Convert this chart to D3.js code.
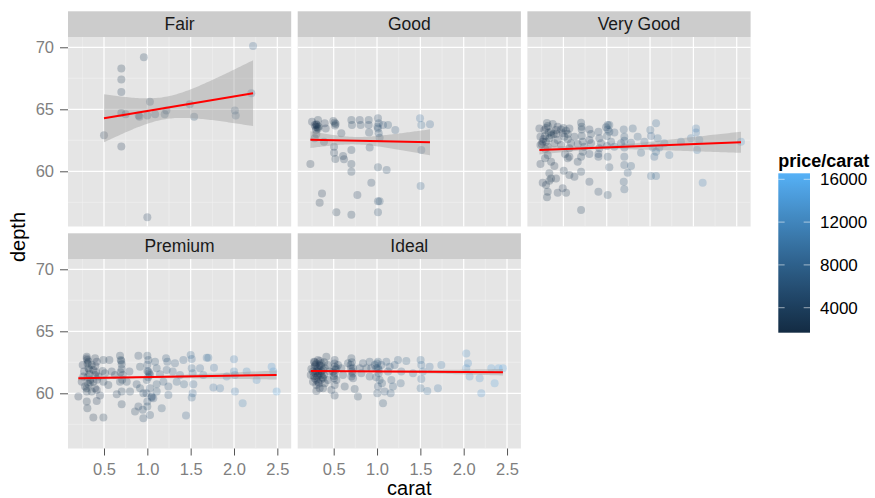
<!DOCTYPE html>
<html>
<head>
<meta charset="UTF-8">
<title>depth vs carat by cut</title>
<script src="https://d3js.org/d3.v7.min.js"></script>
<style>
  body { margin: 0; background: #fff; }
  svg { display: block; font-family: "Liberation Sans", Arial, Helvetica, sans-serif; }
</style>
</head>
<body>
<svg id="chart" width="875" height="498"></svg>
<script>
  // facets, in drawing order
  const cuts = ["Fair", "Good", "Very Good", "Premium", "Ideal"];

  // points: [carat, depth, price/carat]
  const fairPts = [
    [0.50,62.9,2600],[0.70,68.3,3000],[0.70,67.4,2900],[0.70,66.4,3100],[0.70,64.7,3000],[0.75,64.6,3200],
    [0.70,62.0,2800],[0.90,64.5,3600],[0.91,64.4,3500],[0.96,69.2,3900],[1.00,64.5,4000],[1.00,56.3,3800],
    [1.03,65.6,4100],[1.09,64.6,4300],[1.20,64.6,4500],[1.22,64.9,4600],[1.49,65.4,5200],[1.54,64.4,5400],
    [2.01,64.9,6500],[2.02,64.5,6300],[2.20,66.3,7200],[2.22,70.1,7600]
  ];
  const goodPts = [
    [0.250,64.00,2700],[0.319,64.14,2500],[0.304,63.73,2400],[0.327,63.60,2500],[0.296,63.33,2300],[0.300,63.01,2600],
    [0.396,63.87,2800],[0.408,63.46,2700],[0.496,64.06,3000],[0.523,63.81,3100],[0.588,63.06,3300],[0.704,64.14,3400],
    [0.711,63.73,3600],[0.800,64.14,3800],[0.811,63.73,3900],[0.904,64.14,4100],[0.904,63.73,4200],[0.908,63.12,4000],
    [1.011,64.27,4800],[1.019,63.87,5000],[1.011,63.46,5200],[1.019,63.06,4700],[1.030,62.71,4600],[1.069,63.73,5300],
    [1.127,63.73,5600],[1.211,63.33,6000],[1.496,64.27,9500],[1.511,63.73,8800],[1.611,63.79,8200],[0.281,62.66,2400],
    [0.388,62.39,2900],[0.504,61.99,3100],[0.504,61.50,3200],[0.519,60.99,3000],[0.608,61.23,3300],[0.619,60.97,3200],
    [0.704,61.72,3500],[0.704,60.59,3600],[0.704,59.97,3700],[0.915,61.93,4300],[0.231,60.59,2600],[1.011,60.32,4900],
    [1.111,60.10,5100],[1.511,61.72,7800],[0.934,59.08,4200],[1.503,58.81,8000],[0.365,58.22,2700],[0.338,57.47,2600],
    [0.773,58.09,3800],[1.011,57.58,5000],[1.030,57.58,5400],[0.531,56.69,3000],[0.704,56.50,3500],[1.011,56.69,4600],
    [0.281,63.73,2300],[0.311,63.55,2400],[0.511,63.92,2900],[0.300,63.80,2300],[0.320,63.45,2400],[0.290,63.60,2300],
    [0.515,63.70,2900],[1.005,63.60,5000]
  ];
  const veryGoodPts = [
    [0.223,63.46,2300],[0.281,63.33,2200],[0.319,63.65,2400],[0.377,63.81,2500],[0.415,63.33,2600],[0.473,63.38,2900],
    [0.531,63.28,3000],[0.569,63.46,3100],[0.704,63.92,3500],[0.711,63.38,3600],[0.800,63.38,3800],[0.904,63.20,4300],
    [1.011,63.73,5200],[1.011,63.38,5600],[1.030,63.20,5000],[1.196,63.38,6000],[1.300,63.46,6400],[1.503,63.33,8000],
    [1.569,63.87,8600],[2.030,63.46,10500],[2.030,63.12,11000],[1.030,63.73,5400],[0.992,63.55,4800],[0.358,63.20,2400],
    [0.434,63.60,2700],
    [0.235,62.79,2300],[0.288,62.85,2400],[0.338,62.66,2500],[0.388,63.01,2600],[0.434,62.52,2700],[0.511,62.79,2900],
    [0.550,62.58,3000],[0.627,62.79,3200],[0.711,62.85,3500],[0.800,62.52,3800],[0.819,63.01,3900],[0.915,62.66,4200],
    [1.003,62.85,4900],[1.088,63.12,5300],[1.203,62.79,6000],[1.203,62.47,6200],[1.511,62.85,7800],[1.588,62.66,8300],
    [1.972,62.66,10000],[2.068,62.52,10800],[2.549,62.39,12500],[0.261,62.39,2300],[0.300,62.39,2400],[0.492,63.06,2800],
    [0.550,63.01,3000],[1.357,62.79,6800],[1.434,62.39,7200],
    [0.235,62.12,2300],[0.319,61.99,2400],[0.396,62.26,2600],[0.473,62.12,2800],[0.569,61.85,3100],[0.665,62.20,3300],
    [0.742,61.99,3600],[0.915,61.85,4200],[1.003,62.04,5000],[1.203,61.93,6100],[1.396,61.50,7000],[1.530,61.93,8000],
    [1.607,61.93,8500],[2.042,61.72,10600],[0.588,62.26,3100],[0.723,62.39,3500],[0.819,62.26,3800],[0.934,62.26,4400],
    [1.050,62.39,5200],[1.165,62.26,5800],[1.280,62.31,6300],[1.665,62.26,8800],[1.857,62.39,9600],
    [0.235,60.59,2300],[0.288,61.05,2400],[0.319,61.31,2400],[0.358,60.78,2500],[0.396,60.43,2600],[0.519,61.40,2900],
    [0.550,61.05,3000],[0.569,61.18,3100],[0.665,60.78,3300],[0.704,61.18,3500],[0.723,61.58,3500],[0.800,61.40,3800],
    [0.904,61.40,4200],[0.904,61.18,4300],[1.011,61.18,5000],[1.030,60.32,5100],[1.088,61.99,5400],[1.203,61.18,6000],
    [1.203,60.51,6100],[1.242,59.89,6300],[1.280,60.43,6500],[1.549,61.18,8200],[1.722,61.31,9000],[1.569,61.58,8400],
    [0.338,59.84,2400],[0.338,59.24,2500],[0.358,59.43,2500],[0.415,59.43,2600],[0.261,59.08,2300],[0.300,58.89,2400],
    [0.319,58.36,2400],[0.311,57.90,2500],[0.434,58.28,2700],[0.492,58.63,2800],[0.531,58.28,2900],[0.504,60.05,2900],
    [0.569,59.70,3000],[0.627,59.57,3200],[0.704,59.97,3500],[0.800,59.16,3800],[0.904,58.36,4200],[1.011,58.09,4900],
    [1.196,59.16,6000],[1.203,58.55,6100],[1.511,59.62,8000],[1.569,59.62,8300],[2.107,59.08,11000],[0.704,56.88,3400],
    [0.300,63.50,2300],[0.330,63.10,2400],[0.270,62.60,2300],[0.360,62.90,2500],[0.420,63.00,2600],[0.250,62.20,2300],
    [0.310,63.90,2400],[0.500,63.50,2900],[0.710,63.60,3500],[0.290,61.80,2400]
  ];
  const premiumPts = [
    [0.301,62.95,2400],[0.308,62.69,2400],[0.397,62.82,2600],[0.416,62.55,2700],[0.493,62.69,2900],[0.562,62.69,3100],
    [0.685,63.03,3400],[0.693,62.69,3500],[0.704,62.34,3500],[0.897,63.03,4300],[1.000,63.03,4900],[1.012,62.69,5100],
    [1.089,62.55,5400],[1.216,62.82,6100],[1.231,62.55,6200],[1.319,62.42,6700],[1.416,62.69,7200],[1.500,63.09,8000],
    [1.512,62.77,8200],[1.704,62.87,9200],[1.769,62.07,9500],[2.000,62.74,11000],[1.685,62.87,9000],
    [0.254,62.28,2300],[0.270,61.75,2300],[0.320,62.02,2400],[0.331,61.53,2500],[0.377,61.88,2600],[0.397,61.48,2600],
    [0.485,61.80,2900],[0.512,61.61,3000],[0.589,61.75,3200],[0.627,61.48,3300],[0.704,61.96,3500],[0.716,61.48,3600],
    [0.793,61.75,3800],[0.916,62.15,4400],[1.000,61.80,5000],[1.012,61.75,5200],[1.023,61.61,5100],[1.108,62.02,5500],
    [1.146,61.53,5800],[1.223,61.88,6200],[1.293,61.75,6600],[1.377,61.48,7000],[1.512,62.02,8100],[1.523,61.61,8300],
    [1.608,62.02,8700],[1.646,61.48,8900],[2.000,61.75,11200],[2.011,61.48,11000],[2.261,61.08,12800],[2.434,62.15,13500],
    [2.454,61.75,14000],[1.915,61.35,10500],[2.146,61.75,12000],
    [0.243,60.94,2300],[0.281,60.54,2400],[0.320,60.73,2400],[0.377,60.94,2600],[0.397,60.41,2600],[0.493,60.94,2900],
    [0.550,60.68,3000],[0.685,60.94,3400],[0.762,60.94,3700],[0.877,60.73,4200],[0.916,60.41,4400],[0.993,61.08,4900],
    [1.031,60.41,5200],[1.108,60.73,5600],[1.185,60.94,6000],[1.243,60.54,6300],[1.339,60.94,6800],[1.423,60.73,7300],
    [1.531,60.73,8200],[1.762,60.46,9500],[1.839,60.41,10000],[2.011,60.14,11000],[2.492,60.14,14500],
    [0.204,59.74,2300],[0.301,60.14,2400],[0.416,60.27,2700],[0.454,59.82,2800],[0.647,59.92,3300],[0.704,60.14,3500],
    [0.800,60.14,3900],[0.954,60.00,4600],[1.050,59.66,5300],[1.108,60.14,5600],[1.243,59.87,6300],[1.523,60.00,8200],
    [1.512,59.66,8000],[0.301,59.34,2400],[0.308,58.80,2400],[0.416,59.39,2700],[0.704,59.12,3500],[0.858,58.53,4100],
    [0.897,58.93,4300],[0.947,58.67,4600],[1.000,58.93,4900],[1.000,59.34,5000],[1.031,58.26,5100],[0.954,57.99,4700],
    [1.166,58.80,5900],[1.446,58.21,7500],[2.100,59.20,11500],[0.377,58.05,2600],[0.493,58.05,2900],
    [0.320,62.55,2400],[0.358,62.28,2500],[0.262,61.35,2300],[0.339,61.08,2500],[0.435,61.35,2700],[0.358,60.14,2500],
    [1.031,61.48,5100],[1.050,59.74,5200],[1.069,59.60,5300],
    [0.300,62.80,2300],[0.310,62.40,2400],[0.330,61.90,2400],[0.310,61.30,2400],[0.340,60.90,2500],[0.300,60.40,2400],
    [0.400,62.20,2600],[0.410,61.70,2600],[0.420,61.10,2700],[0.700,62.60,3500],[0.690,61.70,3500],[0.710,61.10,3600],
    [1.000,62.30,5000],[1.010,61.30,5100],[0.990,60.00,4800]
  ];
  const idealPts = [
    [0.242,61.96,2600],[0.273,62.55,2700],[0.288,62.28,2700],[0.300,61.75,2800],[0.311,61.35,2700],[0.319,62.69,2800],
    [0.327,62.02,2800],[0.338,61.61,2900],[0.350,61.08,2800],[0.358,62.42,2900],[0.377,61.88,2900],[0.388,61.48,3000],
    [0.396,60.81,2900],[0.415,62.95,3000],[0.281,61.21,2700],[0.300,60.68,2700],[0.300,60.19,2600],[0.338,60.41,2800],
    [0.434,62.28,3000],[0.434,61.08,3100],[0.511,62.69,3300],[0.511,62.15,3300],[0.511,61.61,3400],[0.531,61.08,3300],
    [0.511,60.68,3200],[0.511,59.82,3200],[0.588,62.02,3500],[0.607,61.48,3500],[0.627,60.54,3400],[0.704,62.82,3900],
    [0.696,62.28,3800],[0.711,61.75,3900],[0.723,61.21,3800],[0.742,60.35,3900],[0.780,59.74,4000],[0.800,62.02,4200],
    [0.819,61.61,4200],[0.915,62.55,4700],[0.915,61.35,4600],[0.973,62.28,5000],[1.011,62.55,5600],[1.019,61.61,5500],
    [1.030,61.08,5400],[1.011,60.54,5300],[1.003,60.00,5200],[1.057,60.81,5600],[1.088,60.14,5700],[1.069,59.20,5500],
    [1.107,62.55,6000],[1.127,61.75,6100],[1.165,61.08,6300],[1.184,60.54,6400],[1.157,60.00,6200],[1.203,62.28,6600],
    [1.242,62.69,6800],[1.280,61.75,7000],[1.338,62.60,7400],[1.273,60.81,7000],[1.415,61.61,7900],[1.503,62.69,8800],
    [1.511,62.28,9000],[1.530,61.75,9100],[1.511,61.16,8900],[1.503,60.41,8800],[1.580,60.19,9300],[1.607,62.15,9500],
    [1.742,62.28,10300],[1.703,60.41,10000],[2.030,63.22,12500],[2.049,62.42,12800],[2.030,62.02,12600],[2.068,61.35,12900],
    [2.184,61.21,13500],[2.203,60.00,13600],[2.318,62.02,14200],[2.357,60.81,14500],[2.403,62.02,14800],[2.453,62.02,15200],
    [0.235,61.48,2600],[0.261,60.94,2600],[0.377,60.41,2900],[0.454,61.75,3100],[0.473,60.27,3100],[0.550,62.28,3400],
    [0.665,62.42,3700],[0.838,62.42,4300],[0.877,62.02,4500],[0.934,62.02,4800],[0.992,62.02,5200],[1.050,62.28,5700],
    [1.146,62.15,6200],
    [0.281,62.15,2700],[0.319,61.75,2800],[0.358,61.48,2900],[0.288,61.61,2700],[0.338,62.28,2800],[0.396,62.02,3000],
    [0.261,61.75,2600],[0.377,61.21,2900],[0.319,60.94,2700],[0.492,61.75,3300],[0.531,62.02,3400],[0.504,61.21,3300],
    [0.704,61.35,3800],[0.723,62.02,3900],[1.011,62.02,5500],
    [0.300,62.40,2700],[0.310,62.00,2700],[0.320,61.50,2800],[0.300,61.10,2700],[0.330,60.80,2800],[0.350,62.20,2800],
    [0.360,61.80,2900],[0.370,61.30,2900],[0.280,62.50,2600],[0.270,61.40,2600],[0.340,62.60,2800],[0.390,62.50,3000],
    [0.510,62.40,3300],[0.520,61.90,3300],[0.500,61.40,3300],[0.700,62.00,3800],[0.710,62.50,3900],[0.720,61.60,3900],
    [1.000,62.40,5500],[1.020,61.90,5400],[0.990,61.30,5200]
  ];
  const panelPts = [fairPts, goodPts, veryGoodPts, premiumPts, idealPts];

  // linear smooth: depth at the left and right ends,
  // and the confidence band: centre carat, narrowest half-width, spread
  const fitStart = [64.27, 62.55, 61.72, 61.21, 61.80];
  const fitEnd = [66.30, 62.34, 62.34, 61.48, 61.70];
  const seCenter = [1.2, 0.75, 0.9, 0.9, 0.8];
  const seMin = [0.9, 0.3, 0.12, 0.08, 0.04];
  const seSpread = [6.0, 1.35, 0.26, 0.05, 0.025];

  const caratTicks = [0.5, 1.0, 1.5, 2.0, 2.5];
  const caratMinor = [0.25, 0.75, 1.25, 1.75, 2.25];
  const depthTicks = [60, 65, 70];
  const depthMinor = [57.5, 62.5, 67.5];
  const priceTicks = [4000, 8000, 12000, 16000];

  const svg = d3.select("#chart");
  const panelW = 223.2, panelH = 189.5, gapX = 6.5, stripH = 25.7;
  const panelLeft = 68;
  const panelTops = [37, 259];

  const x = d3.scaleLinear().domain([0.0846, 2.66]).range([0, panelW]);
  const y = d3.scaleLinear().domain([55.55, 70.83]).range([panelH, 0]);
  const color = d3.scaleLinear()
    .domain([1664, 16561])
    .range(["#132B43", "#56B1F7"])
    .interpolate(d3.interpolateLab);

  cuts.forEach((cut, i) => {
    const col = i % 3, row = Math.floor(i / 3);
    const px = panelLeft + col * (panelW + gapX);
    const py = panelTops[row];
    const pts = panelPts[i];
    const g = svg.append("g").attr("transform", `translate(${px},${py})`);

    g.append("clipPath").attr("id", "clip" + i)
      .append("rect").attr("width", panelW).attr("height", panelH);

    g.append("rect").attr("width", panelW).attr("height", panelH).attr("fill", "#E5E5E5");

    // grid
    g.selectAll(".vminor").data(caratMinor).join("line")
      .attr("x1", d => x(d)).attr("x2", d => x(d)).attr("y1", 0).attr("y2", panelH)
      .attr("stroke", "#F2F2F2").attr("stroke-width", 0.6);
    g.selectAll(".hminor").data(depthMinor).join("line")
      .attr("y1", d => y(d)).attr("y2", d => y(d)).attr("x1", 0).attr("x2", panelW)
      .attr("stroke", "#F2F2F2").attr("stroke-width", 0.6);
    g.selectAll(".vmajor").data(caratTicks).join("line")
      .attr("x1", d => x(d)).attr("x2", d => x(d)).attr("y1", 0).attr("y2", panelH)
      .attr("stroke", "#fff").attr("stroke-width", 1.2);
    g.selectAll(".hmajor").data(depthTicks).join("line")
      .attr("y1", d => y(d)).attr("y2", d => y(d)).attr("x1", 0).attr("x2", panelW)
      .attr("stroke", "#fff").attr("stroke-width", 1.2);

    const plot = g.append("g").attr("clip-path", `url(#clip${i})`);

    plot.selectAll("circle").data(pts).join("circle")
      .attr("cx", d => x(d[0]))
      .attr("cy", d => y(d[1]))
      .attr("r", 4)
      .attr("fill", d => color(d[2]))
      .attr("fill-opacity", 0.24);

    // smooth
    const [x0, x1] = d3.extent(pts, d => d[0]);
    const fit = c => fitStart[i] + (fitEnd[i] - fitStart[i]) * (c - x0) / (x1 - x0);
    const half = c => Math.sqrt(seMin[i] ** 2 + seSpread[i] * (c - seCenter[i]) ** 2);
    const xs = d3.range(0, 81).map(k => x0 + (x1 - x0) * k / 80);

    plot.append("path")
      .datum(xs)
      .attr("d", d3.area().x(c => x(c)).y0(c => y(fit(c) - half(c))).y1(c => y(fit(c) + half(c))))
      .attr("fill", "#999999").attr("fill-opacity", 0.4);

    plot.append("line")
      .attr("x1", x(x0)).attr("y1", y(fit(x0)))
      .attr("x2", x(x1)).attr("y2", y(fit(x1)))
      .attr("stroke", "#FF0000").attr("stroke-width", 2);

    // strip
    g.append("rect").attr("y", -stripH).attr("width", panelW).attr("height", stripH).attr("fill", "#CCCCCC");
    g.append("text")
      .attr("x", panelW / 2).attr("y", -stripH / 2 + 6.2)
      .attr("text-anchor", "middle")
      .attr("font-size", 17.5).attr("fill", "#1A1A1A")
      .text(cut);

    if (col === 0) {
      const ax = g.append("g").call(d3.axisLeft(y).tickValues(depthTicks).tickSize(8).tickPadding(6));
      ax.select(".domain").remove();
      ax.selectAll("line").attr("stroke", "#555").attr("stroke-width", 1);
      ax.selectAll("text").attr("fill", "#7F7F7F").attr("font-size", 16.5)
        .attr("font-family", "Liberation Sans, Arial, sans-serif");
    }
    if (row === 1) {
      const ax = g.append("g").attr("transform", `translate(0,${panelH})`)
        .call(d3.axisBottom(x).tickValues(caratTicks).tickFormat(d3.format(".1f")).tickSize(7).tickPadding(8));
      ax.select(".domain").remove();
      ax.selectAll("line").attr("stroke", "#555").attr("stroke-width", 1);
      ax.selectAll("text").attr("fill", "#7F7F7F").attr("font-size", 16.5)
        .attr("font-family", "Liberation Sans, Arial, sans-serif");
    }
  });

  // axis titles
  svg.append("text")
    .attr("x", panelLeft + (3 * panelW + 2 * gapX) / 2).attr("y", 495)
    .attr("text-anchor", "middle").attr("font-size", 20).attr("fill", "#000")
    .text("carat");
  svg.append("text")
    .attr("transform", "translate(25,237) rotate(-90)")
    .attr("text-anchor", "middle").attr("font-size", 20).attr("fill", "#000")
    .text("depth");

  // legend
  const legX = 778.3, barW = 31.7, barTop = 173.3, barBottom = 332.7;
  const ly = d3.scaleLinear().domain(color.domain()).range([barBottom, barTop]);
  const legend = svg.append("g");
  legend.append("text")
    .attr("x", legX).attr("y", 166.5)
    .attr("font-size", 18).attr("font-weight", "bold").attr("fill", "#000")
    .text("price/carat");

  const [cLo, cHi] = color.domain();
  const grad = svg.append("defs").append("linearGradient")
    .attr("id", "bar").attr("x1", 0).attr("x2", 0).attr("y1", 1).attr("y2", 0);
  grad.selectAll("stop").data(d3.range(0, 21)).join("stop")
    .attr("offset", k => k / 20)
    .attr("stop-color", k => color(cLo + (cHi - cLo) * k / 20));
  legend.append("rect")
    .attr("x", legX).attr("y", barTop)
    .attr("width", barW).attr("height", barBottom - barTop)
    .attr("fill", "url(#bar)");

  legend.selectAll(".tl").data(priceTicks).join("line")
    .attr("x1", legX).attr("x2", legX + barW / 5)
    .attr("y1", d => ly(d)).attr("y2", d => ly(d))
    .attr("stroke", "#fff").attr("stroke-opacity", 0.7).attr("stroke-width", 0.8);
  legend.selectAll(".tr").data(priceTicks).join("line")
    .attr("x1", legX + barW * 4 / 5).attr("x2", legX + barW)
    .attr("y1", d => ly(d)).attr("y2", d => ly(d))
    .attr("stroke", "#fff").attr("stroke-opacity", 0.7).attr("stroke-width", 0.8);
  legend.selectAll(".lab").data(priceTicks).join("text")
    .attr("x", legX + barW + 10)
    .attr("y", d => ly(d))
    .attr("dy", "0.36em")
    .attr("font-size", 17).attr("fill", "#000")
    .text(d => d);
</script>
</body>
</html>
